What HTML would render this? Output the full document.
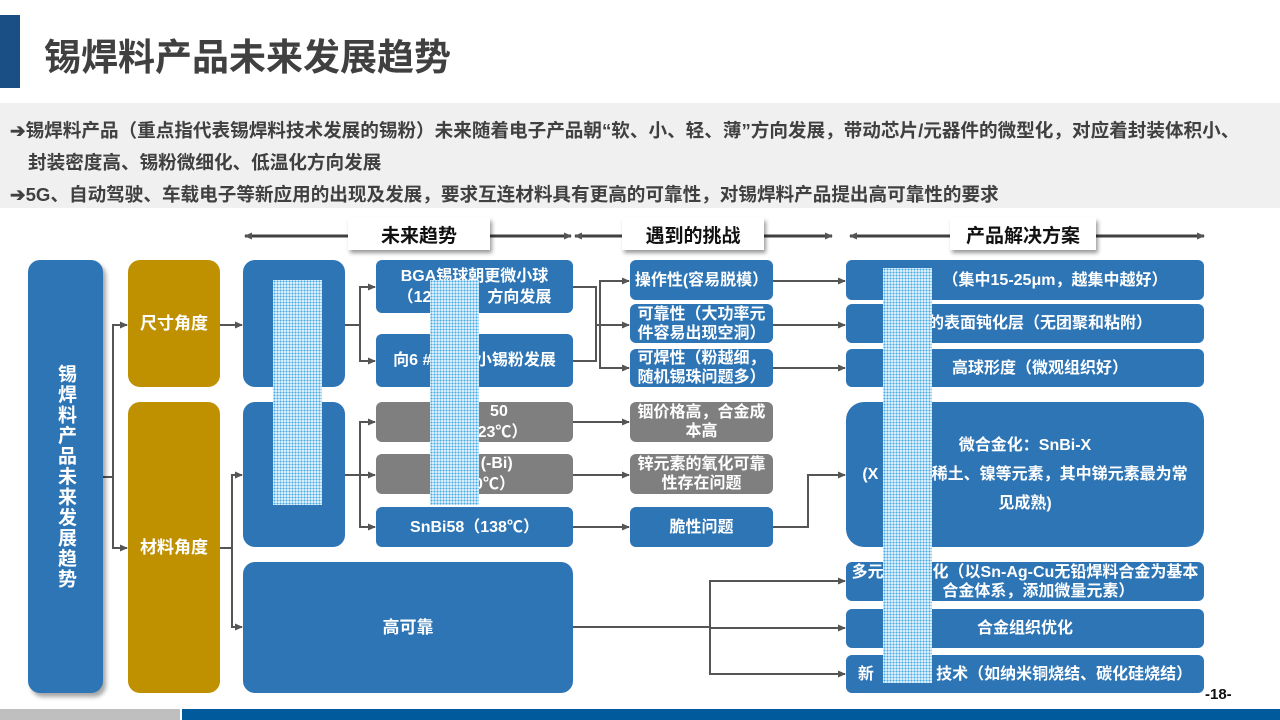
<!DOCTYPE html>
<html><head><meta charset="utf-8"><style>
*{margin:0;padding:0;box-sizing:border-box}
body{width:1280px;height:720px;position:relative;background:#fff;overflow:hidden;font-family:"Liberation Sans","Noto Sans CJK SC",sans-serif;font-weight:bold}
.a{position:absolute}
.b{position:absolute;background:#2e75b6;color:#fff;border-radius:6px;display:flex;align-items:center;justify-content:center;text-align:center;font-size:16px;line-height:21px;white-space:nowrap}
.g{background:#7f7f7f}
.y{background:#bf9000;border-radius:12px}
.sh{box-shadow:3px 4px 4px rgba(0,0,0,.35)}
.h{position:absolute;background-color:#eaf7fd;background-image:radial-gradient(circle,#4aabe6 0.8px,transparent 1.3px);background-size:3px 3px}
.lab{position:absolute;background:#fff;box-shadow:2px 3px 4px rgba(0,0,0,.4);font-size:19px;display:flex;align-items:center;justify-content:center;color:#111;height:32px;top:218px}
.t{position:absolute;left:10px;font-size:18.6px;color:#404040;white-space:nowrap}
</style></head><body>
<div class="a" style="left:0;top:15px;width:20px;height:73px;background:#1a4f85"></div>
<div class="a" style="left:44px;top:27px;font-size:37px;color:#404040">锡焊料产品未来发展趋势</div>
<div class="a" style="left:0;top:103px;width:1280px;height:105px;background:#f0f0f0"></div>
<div class="t" style="top:116px">➔锡焊料产品（重点指代表锡焊料技术发展的锡粉）未来随着电子产品朝“软、小、轻、薄”方向发展，带动芯片/元器件的微型化，对应着封装体积小、</div>
<div class="t" style="top:148px;left:28px">封装密度高、锡粉微细化、低温化方向发展</div>
<div class="t" style="top:180px">➔5G、自动驾驶、车载电子等新应用的出现及发展，要求互连材料具有更高的可靠性，对锡焊料产品提出高可靠性的要求</div>

<svg class="a" style="left:0;top:0" width="1280" height="720">
<defs><marker id="m" markerWidth="8" markerHeight="8" refX="7" refY="4" orient="auto" markerUnits="userSpaceOnUse"><path d="M0,0.5 L8,4 L0,7.5z" fill="#555"/></marker>
<marker id="s" markerWidth="8" markerHeight="8" refX="1" refY="4" orient="auto" markerUnits="userSpaceOnUse"><path d="M8,0.5 L0,4 L8,7.5z" fill="#555"/></marker></defs>
<g stroke="#404040" stroke-width="3" fill="none">
<line x1="245" y1="236" x2="571" y2="236" marker-start="url(#s)" marker-end="url(#m)"/>
<line x1="575" y1="236" x2="832" y2="236" marker-start="url(#s)" marker-end="url(#m)"/>
<line x1="850" y1="236" x2="1204" y2="236" marker-start="url(#s)" marker-end="url(#m)"/>
</g>
<g stroke="#555" stroke-width="2" fill="none">
<path d="M103,477 H113 V325 H127" marker-end="url(#m)"/>
<path d="M113,477 V548 H127" marker-end="url(#m)"/>
<path d="M220,325 H242" marker-end="url(#m)"/>
<path d="M220,548 H232 V475 H242" marker-end="url(#m)"/>
<path d="M232,548 V627 H242" marker-end="url(#m)"/>
<path d="M345,325 H360 V287 H375" marker-end="url(#m)"/>
<path d="M360,325 V361 H375" marker-end="url(#m)"/>
<path d="M345,475 H375" marker-end="url(#m)"/>
<path d="M360,475 V422 H375" marker-end="url(#m)"/>
<path d="M360,475 V527 H375" marker-end="url(#m)"/>
<path d="M573,287 H596 V361 H573"/>
<path d="M596,325 H629" marker-end="url(#m)"/>
<path d="M600,325 V281 H629" marker-end="url(#m)"/>
<path d="M600,325 V368 H629" marker-end="url(#m)"/>
<path d="M573,422 H629" marker-end="url(#m)"/>
<path d="M573,475 H629" marker-end="url(#m)"/>
<path d="M573,527 H629" marker-end="url(#m)"/>
<path d="M773,281 H845" marker-end="url(#m)"/>
<path d="M773,325 H845" marker-end="url(#m)"/>
<path d="M773,368 H845" marker-end="url(#m)"/>
<path d="M773,527 H808 V475 H845" marker-end="url(#m)"/>
<path d="M573,627 H710 V581 H845" marker-end="url(#m)"/>
<path d="M710,628 H845" marker-end="url(#m)"/>
<path d="M710,627 V674 H845" marker-end="url(#m)"/>
</g></svg>

<div class="lab" style="left:348px;width:142px">未来趋势</div>
<div class="lab" style="left:622px;width:142px">遇到的挑战</div>
<div class="lab" style="left:950px;width:146px">产品解决方案</div>

<div class="b sh" style="left:28px;top:260px;width:75px;height:433px;border-radius:12px;font-size:19px;line-height:21px;letter-spacing:1.5px;writing-mode:vertical-rl">锡焊料产品未来发展趋势</div>
<div class="b y" style="left:128px;top:260px;width:92px;height:127px;font-size:17px">尺寸角度</div>
<div class="b y" style="left:128px;top:402px;width:92px;height:291px;font-size:17px">材料角度</div>
<div class="b" style="left:243px;top:260px;width:102px;height:127px;border-radius:12px"></div>
<div class="b" style="left:243px;top:402px;width:102px;height:145px;border-radius:12px"></div>
<div class="b" style="left:243px;top:562px;width:330px;height:131px;border-radius:12px;font-size:17px">高可靠</div>
<div class="b" style="left:376px;top:260px;width:197px;height:53px">BGA锡球朝更微小球<br>（12&nbsp;&nbsp;&nbsp;&nbsp;&nbsp;&nbsp;&nbsp;&nbsp;&nbsp;）方向发展</div>
<div class="b" style="left:376px;top:334px;width:197px;height:53px">向6 #&nbsp;&nbsp;&nbsp;&nbsp;&nbsp;&nbsp;&nbsp;&nbsp;&nbsp;&nbsp;小锡粉发展</div>
<div class="b g" style="left:376px;top:402px;width:197px;height:40px">&nbsp;&nbsp;&nbsp;&nbsp;&nbsp;&nbsp;&nbsp;&nbsp;&nbsp;&nbsp;&nbsp;50<br>（&nbsp;&nbsp;&nbsp;&nbsp;&nbsp;&nbsp;&nbsp;&nbsp;&nbsp;23℃）</div>
<div class="b g" style="left:376px;top:454px;width:197px;height:40px">&nbsp;&nbsp;&nbsp;&nbsp;&nbsp;&nbsp;&nbsp;&nbsp;&nbsp;&nbsp;(-Bi)<br>&nbsp;&nbsp;&nbsp;&nbsp;&nbsp;&nbsp;&nbsp;&nbsp;&nbsp;0℃）</div>
<div class="b" style="left:376px;top:507px;width:197px;height:40px">SnBi58（138℃）</div>
<div class="b" style="left:630px;top:260px;width:143px;height:40px">操作性(容易脱模）</div>
<div class="b" style="left:630px;top:304px;width:143px;height:39px;line-height:19px">可靠性（大功率元<br>件容易出现空洞）</div>
<div class="b" style="left:630px;top:349px;width:143px;height:38px;line-height:19px">可焊性（粉越细，<br>随机锡珠问题多）</div>
<div class="b g" style="left:630px;top:402px;width:143px;height:40px;line-height:19px">铟价格高，合金成<br>本高</div>
<div class="b g" style="left:630px;top:454px;width:143px;height:40px;line-height:19px">锌元素的氧化可靠<br>性存在问题</div>
<div class="b" style="left:630px;top:507px;width:143px;height:40px">脆性问题</div>
<div class="b" style="left:846px;top:260px;width:358px;height:40px;padding-left:60px">（集中15-25μm，越集中越好）</div>
<div class="b" style="left:846px;top:304px;width:358px;height:39px;padding-left:30px">的表面钝化层（无团聚和粘附）</div>
<div class="b" style="left:846px;top:349px;width:358px;height:38px;padding-left:30px">高球形度（微观组织好）</div>
<div class="b" style="left:846px;top:402px;width:358px;height:145px;border-radius:18px;line-height:29px">微合金化：SnBi-X<br>(X&nbsp;&nbsp;&nbsp;&nbsp;&nbsp;&nbsp;&nbsp;&nbsp;&nbsp;&nbsp;&nbsp;&nbsp;稀土、镍等元素，其中锑元素最为常<br>见成熟)</div>
<div class="b" style="left:846px;top:562px;width:358px;height:39px;line-height:19px">多元&nbsp;&nbsp;&nbsp;&nbsp;&nbsp;&nbsp;&nbsp;&nbsp;&nbsp;&nbsp;&nbsp;化（以Sn-Ag-Cu无铅焊料合金为基本<br>&nbsp;&nbsp;&nbsp;&nbsp;&nbsp;&nbsp;合金体系，添加微量元素）</div>
<div class="b" style="left:846px;top:609px;width:358px;height:39px">合金组织优化</div>
<div class="b" style="left:846px;top:655px;width:358px;height:38px">新&nbsp;&nbsp;&nbsp;&nbsp;&nbsp;&nbsp;&nbsp;&nbsp;&nbsp;&nbsp;&nbsp;&nbsp;&nbsp;&nbsp;技术（如纳米铜烧结、碳化硅烧结）</div>

<div class="h" style="left:273px;top:280px;width:49px;height:225px"></div>
<div class="h" style="left:430px;top:280px;width:49px;height:225px"></div>
<div class="h" style="left:883px;top:268px;width:49px;height:415px"></div>

<div class="a" style="left:1205px;top:686px;font-size:15px;color:#111">-18-</div>
<div class="a" style="left:0;top:709px;width:180px;height:11px;background:#bfbfbf"></div>
<div class="a" style="left:182px;top:709px;width:1098px;height:11px;background:#005a9c"></div>
</body></html>
